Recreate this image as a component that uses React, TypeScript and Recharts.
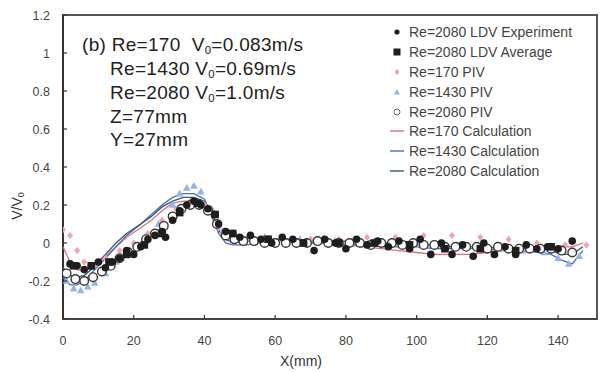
import React from 'react';
import { ScatterChart, Scatter, XAxis, YAxis, ReferenceArea } from 'recharts';

// calculation curves (shared x grid, mm)
const calcX = [0, 2, 4, 6, 8, 10, 12, 15, 18, 22, 25, 28, 31, 34, 37, 40, 42, 44, 46, 48, 52, 56, 60, 65, 70, 75, 80, 85, 90, 95, 100, 105, 110, 115, 120, 125, 130, 135, 138, 141, 144, 147];
const calc170 = [-0.02, -0.1, -0.14, -0.15, -0.13, -0.1, -0.07, -0.02, 0.03, 0.08, 0.12, 0.17, 0.21, 0.22, 0.22, 0.2, 0.14, 0.06, 0.02, 0.01, 0.01, 0.02, 0.01, 0.01, 0.0, 0.0, -0.01, -0.02, -0.03, -0.04, -0.05, -0.06, -0.06, -0.06, -0.05, -0.04, -0.03, -0.03, -0.03, -0.02, -0.02, 0.0];
const calc1430 = [-0.18, -0.22, -0.22, -0.2, -0.16, -0.12, -0.08, -0.02, 0.04, 0.1, 0.15, 0.2, 0.24, 0.26, 0.26, 0.23, 0.15, 0.05, 0.0, -0.01, -0.01, 0.0, 0.01, 0.01, 0.0, 0.0, -0.01, -0.01, -0.02, -0.02, -0.02, -0.03, -0.03, -0.03, -0.03, -0.04, -0.04, -0.05, -0.06, -0.09, -0.11, -0.04];
const calc2080 = [-0.13, -0.17, -0.18, -0.17, -0.14, -0.1, -0.06, 0.0, 0.05, 0.1, 0.14, 0.19, 0.22, 0.24, 0.24, 0.22, 0.16, 0.07, 0.02, 0.0, 0.01, 0.02, 0.02, 0.02, 0.01, 0.01, 0.01, 0.0, 0.0, 0.0, -0.01, -0.01, -0.02, -0.02, -0.02, -0.03, -0.03, -0.03, -0.04, -0.06, -0.06, -0.02];

// Re=2080 LDV experiment
const ldvX = [2, 4, 6, 8, 10, 12, 14, 16, 18, 20, 22, 24, 26, 28, 29, 31, 33, 35, 37, 39, 41, 43, 44, 46, 48, 50, 53, 56, 59, 62, 65, 68, 71, 74, 77, 80, 83, 86, 89, 92, 95, 98, 101, 104, 107, 110, 113, 116, 119, 122, 125, 128, 131, 134, 137, 140, 144];
const ldvY = [-0.11, -0.12, -0.14, -0.12, -0.1, -0.13, -0.1, -0.08, -0.04, -0.06, -0.02, 0.02, 0.04, 0.06, 0.03, 0.12, 0.17, 0.2, 0.22, 0.2, 0.18, 0.15, 0.1, 0.06, 0.05, 0.03, 0.04, 0.02, 0.0, 0.03, 0.02, 0.0, -0.04, 0.02, 0.0, -0.03, 0.02, -0.01, 0.01, -0.02, 0.01, -0.03, 0.02, -0.06, 0.0, -0.06, -0.01, -0.07, 0.0, -0.06, -0.02, -0.06, -0.01, -0.03, -0.02, -0.03, 0.01];

// Re=2080 LDV average
const avgX = [3, 8, 13, 18, 23, 28, 33, 38, 43, 48, 58, 68, 78, 88, 98, 108, 118, 128, 138];
const avgY = [-0.12, -0.12, -0.1, -0.06, -0.01, 0.05, 0.16, 0.21, 0.15, 0.05, 0.02, 0.0, 0.0, 0.0, -0.01, -0.03, -0.03, -0.04, -0.02];

// PIV
const piv170X = [0, 2, 4, 6, 9, 12, 16, 20, 24, 28, 32, 36, 40, 44, 48, 55, 62, 70, 78, 86, 94, 102, 110, 118, 126, 134, 142, 148];
const piv170Y = [0.07, 0.04, -0.04, -0.1, -0.12, -0.08, -0.04, 0.0, 0.05, 0.12, 0.18, 0.22, 0.2, 0.08, 0.02, 0.01, 0.02, 0.02, 0.02, 0.03, 0.03, 0.04, 0.04, 0.03, 0.02, 0.0, -0.01, -0.01];
const piv1430X = [1, 3, 5, 7, 9, 12, 15, 19, 23, 27, 31, 33, 35, 37, 39, 42, 45, 48, 52, 57, 62, 67, 72, 77, 82, 88, 94, 100, 106, 112, 118, 124, 130, 136, 140, 143, 146];
const piv1430Y = [-0.2, -0.24, -0.25, -0.23, -0.21, -0.16, -0.1, -0.04, 0.02, 0.1, 0.2, 0.26, 0.29, 0.3, 0.27, 0.18, 0.06, 0.02, 0.02, 0.03, 0.02, 0.02, 0.02, 0.01, 0.01, 0.01, 0.0, 0.0, -0.01, -0.01, -0.02, -0.03, -0.04, -0.05, -0.08, -0.11, -0.07];
const piv2080X = [1, 3.5, 6, 8.5, 11, 13.5, 16, 18.5, 21, 23.5, 26, 28.5, 31, 33.5, 36, 38.5, 41, 43.5, 46, 48.5, 51, 54, 57, 60, 63, 66, 69, 72, 75, 78, 81, 84, 87, 90, 93, 96, 99, 102, 105, 108, 111, 114, 117, 120, 123, 126, 129, 132, 135, 138, 141, 144];
const piv2080Y = [-0.16, -0.19, -0.2, -0.18, -0.15, -0.12, -0.08, -0.05, -0.02, 0.02, 0.05, 0.09, 0.14, 0.18, 0.2, 0.2, 0.17, 0.1, 0.04, 0.02, 0.01, 0.01, 0.0, 0.0, 0.0, 0.0, 0.0, 0.01, 0.0, 0.0, 0.0, 0.0, -0.01, 0.0, 0.0, -0.01, 0.0, -0.01, -0.01, -0.02, -0.02, -0.02, -0.02, -0.03, -0.02, -0.03, -0.03, -0.03, -0.03, -0.03, -0.04, -0.05];

const xTicks = [0, 20, 40, 60, 80, 100, 120, 140];
const yTicks = [-0.4, -0.2, 0, 0.2, 0.4, 0.6, 0.8, 1, 1.2];

const legendLabels = [
  'Re=2080 LDV Experiment',
  'Re=2080 LDV Average',
  'Re=170 PIV',
  'Re=1430 PIV',
  'Re=2080 PIV',
  'Re=170 Calculation',
  'Re=1430 Calculation',
  'Re=2080 Calculation',
];

const FONT = '"Liberation Sans", Arial, sans-serif';
const AXIS = '#333';
const RED = '#e0707e';
const BLUE = '#4a6cc0';
const DARK = '#355a68';
const PINK = '#f2a2b6';
const LIGHTBLUE = '#94b4e4';

const toPoints = (xs: number[], ys: number[]) => xs.map((x, i) => ({ x, y: ys[i] }));

const fmtY = (v: number) => String(Math.round(v * 10) / 10);

const YTick = (props: any) => {
  const { x, y, payload } = props;
  return (
    <g>
      <line x1={x} x2={x + 4} y1={y} y2={y} stroke={AXIS} strokeWidth={1.2} />
      <text x={x - 13} y={y} dy={4.5} textAnchor="end" fontSize={12.5} fill="#444" fontFamily={FONT}>
        {fmtY(payload.value)}
      </text>
    </g>
  );
};

const XTick = (props: any) => {
  const { x, y, payload } = props;
  return (
    <g>
      {payload.value !== 0 && <line x1={x} x2={x} y1={y} y2={y - 4} stroke={AXIS} strokeWidth={1.2} />}
      <text x={x} y={y + 26} textAnchor="middle" fontSize={12.5} fill="#444" fontFamily={FONT}>
        {payload.value}
      </text>
    </g>
  );
};

const Dot = (p: any) => <circle cx={p.cx} cy={p.cy} r={3.8} fill="#1e1e1e" />;
const Square = (p: any) => <rect x={p.cx - 3.8} y={p.cy - 3.8} width={7.6} height={7.6} fill="#1e1e1e" />;
const Ring = (p: any) => <circle cx={p.cx} cy={p.cy} r={4.3} fill="#fff" stroke="#3a3a3a" strokeWidth={1.4} />;
const Tri = (p: any) => (
  <path d={`M${p.cx},${p.cy - 4}L${p.cx + 3.8},${p.cy + 2.8}L${p.cx - 3.8},${p.cy + 2.8}Z`} fill={LIGHTBLUE} />
);
const Diamond = (p: any) => (
  <path d={`M${p.cx},${p.cy - 3.5}L${p.cx + 3},${p.cy}L${p.cx},${p.cy + 3.5}L${p.cx - 3},${p.cy}Z`} fill={PINK} />
);
const NoShape = () => <g />;

const LegendIcon = ({ i }: { i: number }) => {
  const c = 8;
  return (
    <svg width={16} height={12} style={{ flex: 'none' }}>
      {i === 0 && <circle cx={c} cy={6} r={2.6} fill="#1e1e1e" />}
      {i === 1 && <rect x={c - 3.5} y={2.5} width={7} height={7} fill="#1e1e1e" />}
      {i === 2 && <path d={`M${c},3L${c + 2.5},6L${c},9L${c - 2.5},6Z`} fill={PINK} />}
      {i === 3 && <path d={`M${c},3L${c + 3},8.5L${c - 3},8.5Z`} fill={LIGHTBLUE} />}
      {i === 4 && <circle cx={c} cy={6} r={3} fill="#fff" stroke="#666" strokeWidth={1} />}
      {i >= 5 && <line x1={1} x2={15} y1={6} y2={6} stroke={[RED, BLUE, DARK][i - 5]} strokeWidth={1.4} />}
    </svg>
  );
};

const Sub = () => <span style={{ fontSize: '0.6em', position: 'relative', top: '0.25em' }}>0</span>;

export default function App() {
  const annoStyle: React.CSSProperties = {
    position: 'absolute',
    fontFamily: FONT,
    fontSize: 19,
    letterSpacing: 0.3,
    lineHeight: '24px',
    color: '#222',
    whiteSpace: 'pre',
  };
  return (
    <div style={{ position: 'absolute', left: 0, top: 0, width: 608, height: 372, background: '#fff', fontFamily: FONT }}>
      <ScatterChart width={608} height={372} margin={{ top: 15, right: 11, left: 0, bottom: 0 }}>
        <XAxis
          type="number"
          dataKey="x"
          domain={[0, 151]}
          ticks={xTicks}
          height={53}
          tickSize={0}
          tickMargin={0}
          tickLine={false}
          tick={<XTick />}
          axisLine={{ stroke: '#444', strokeWidth: 2 }}
          allowDataOverflow
          label={{
            content: () => (
              <text x={301} y={366} textAnchor="middle" fontSize={14} fill="#333" fontFamily={FONT}>
                X(mm)
              </text>
            ),
          }}
        />
        <YAxis
          type="number"
          dataKey="y"
          domain={[-0.4, 1.2]}
          ticks={yTicks}
          width={63}
          tickSize={0}
          tickMargin={0}
          tickLine={false}
          tick={<YTick />}
          axisLine={{ stroke: '#333', strokeWidth: 2 }}
          allowDataOverflow
          label={{
            content: () => (
              <text
                x={22}
                y={206}
                transform="rotate(-90, 22, 206)"
                textAnchor="middle"
                fontSize={14}
                fill="#333"
                fontFamily={FONT}
              >
                V/V<tspan fontSize={9} dy={2}>0</tspan>
              </text>
            ),
          }}
        />
        <ReferenceArea x1={0} x2={151} y1={-0.4} y2={1.2} fill="none" stroke="#555" strokeWidth={2} ifOverflow="visible" />
        <Scatter data={toPoints(calcX, calc170)} line={{ stroke: RED, strokeWidth: 1.3 }} lineType="joint" shape={NoShape} isAnimationActive={false} />
        <Scatter data={toPoints(calcX, calc1430)} line={{ stroke: BLUE, strokeWidth: 1.3 }} lineType="joint" shape={NoShape} isAnimationActive={false} />
        <Scatter data={toPoints(calcX, calc2080)} line={{ stroke: DARK, strokeWidth: 1.3 }} lineType="joint" shape={NoShape} isAnimationActive={false} />
        <Scatter data={toPoints(piv170X, piv170Y)} shape={Diamond} isAnimationActive={false} />
        <Scatter data={toPoints(piv1430X, piv1430Y)} shape={Tri} isAnimationActive={false} />
        <Scatter data={toPoints(piv2080X, piv2080Y)} shape={Ring} isAnimationActive={false} />
        <Scatter data={toPoints(ldvX, ldvY)} shape={Dot} isAnimationActive={false} />
        <Scatter data={toPoints(avgX, avgY)} shape={Square} isAnimationActive={false} />
      </ScatterChart>

      <div style={{ ...annoStyle, left: 82, top: 33 }}>
        (b) Re=170  V<Sub />=0.083m/s
      </div>
      <div style={{ ...annoStyle, left: 110, top: 57 }}>
        Re=1430 V<Sub />=0.69m/s
      </div>
      <div style={{ ...annoStyle, left: 110, top: 81 }}>
        Re=2080 V<Sub />=1.0m/s
      </div>
      <div style={{ ...annoStyle, left: 110, top: 105 }}>Z=77mm</div>
      <div style={{ ...annoStyle, left: 110, top: 128 }}>Y=27mm</div>

      <div style={{ position: 'absolute', left: 389, top: 22 }}>
        {legendLabels.map((label, i) => (
          <div key={label} style={{ display: 'flex', alignItems: 'center', height: 19.9 }}>
            <LegendIcon i={i} />
            <span style={{ marginLeft: 4, fontSize: 14, letterSpacing: 0, color: '#444', whiteSpace: 'nowrap' }}>{label}</span>
          </div>
        ))}
      </div>
    </div>
  );
}
